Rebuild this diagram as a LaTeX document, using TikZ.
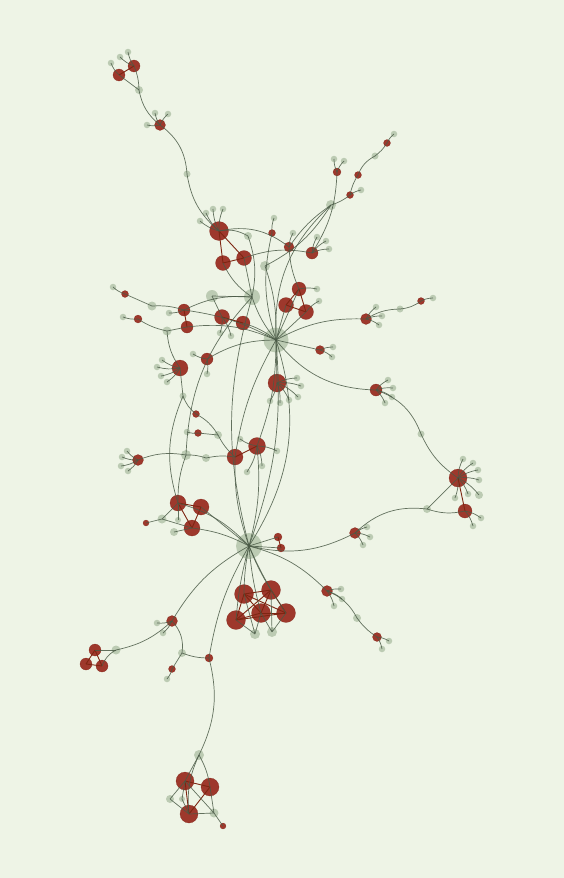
\documentclass[tikz,border=0pt]{standalone}
\definecolor{bgc}{RGB}{238,244,230}
\definecolor{nred}{RGB}{150,36,24}
\definecolor{nredd}{RGB}{120,28,18}
\definecolor{ngray}{RGB}{172,190,162}
\definecolor{edgec}{RGB}{74,90,70}
\definecolor{redline}{RGB}{125,38,18}
\tikzset{
 rn/.style={circle, fill=nred, fill opacity=0.9, draw=nredd, draw opacity=0.6, line width=0.3bp, inner sep=0pt, minimum size=#1},
 gn/.style={circle, fill=ngray, fill opacity=0.75, draw=none, inner sep=0pt, minimum size=#1},
 ed/.style={draw=edgec, draw opacity=0.85, line width=0.7bp},
 re/.style={draw=redline, line width=0.9bp},
}
\newcommand\leafs[3][6.5bp]{\foreach \lx/\ly [count=\li] in {#3}{\node[gn=#1] (#2l\li) at (\lx,\ly) {}; \draw[ed] (#2.center) to[bend left=12] (#2l\li.center);}}
\begin{document}
\begin{tikzpicture}[x=1bp,y=-1bp]
\fill[bgc] (0,0) rectangle (564,878);
\useasboundingbox (0,0) rectangle (564,878);
% ---------- nodes ----------
\node[rn=12bp] (t1) at (119,75) {};
\node[rn=12bp] (t2) at (134,66) {};
\node[gn=8bp] (tg) at (139,90) {};
\node[rn=11bp] (t3) at (160,125) {};
\node[gn=7bp] (tg2) at (187,174) {};
\node[rn=19bp] (a1) at (219,231) {};
\node[rn=15bp] (a2) at (223,263) {};
\node[rn=15bp] (a3) at (244,258) {};
\node[gn=8bp] (ag1) at (248,236) {};
\node[gn=10bp] (ag2) at (265,266) {};
\node[rn=7bp] (a4) at (272,233) {};
\node[rn=10bp] (a5) at (289,247) {};
\node[rn=12bp] (a6) at (312,253) {};
\node[gn=10bp] (bg1) at (331,205) {};
\node[rn=8bp] (b1) at (337,172) {};
\node[rn=7bp] (b2) at (350,195) {};
\node[rn=7bp] (b3) at (358,175) {};
\node[gn=7bp] (bg2) at (375,156) {};
\node[rn=7bp] (b4) at (387,143) {};
\node[rn=14bp] (c1) at (299,289) {};
\node[rn=15bp] (c2) at (286,305) {};
\node[rn=15bp] (c3) at (306,312) {};
\node[gn=16bp] (hA) at (252,297) {};
\node[gn=25bp] (hB) at (276,340) {};
\node[rn=14bp] (d1) at (243,323) {};
\node[rn=15bp] (d2) at (222,317) {};
\node[gn=12bp] (dg) at (212,296) {};
\node[rn=12bp] (e1) at (184,310) {};
\node[rn=12bp] (e2) at (187,327) {};
\node[gn=9bp] (eg1) at (152,306) {};
\node[gn=9bp] (eg2) at (167,331) {};
\node[rn=7bp] (e3) at (125,294) {};
\node[rn=8bp] (e4) at (138,319) {};
\node[rn=12bp] (f1) at (207,359) {};
\node[rn=16bp] (f2) at (180,368) {};
\node[gn=7bp] (fg) at (183,396) {};
\node[rn=9bp] (g1) at (320,350) {};
\node[rn=11bp] (g2) at (366,319) {};
\node[gn=7bp] (gg) at (400,309) {};
\node[rn=7bp] (g3) at (421,301) {};
\node[rn=18bp] (h1) at (277,383) {};
\node[rn=12bp] (k1) at (376,390) {};
\node[gn=7bp] (kg) at (421,434) {};
\node[rn=18bp] (k2) at (458,478) {};
\node[rn=14bp] (k3) at (465,511) {};
\node[gn=8bp] (kg2) at (427,509) {};
\node[rn=11bp] (k4) at (355,533) {};
\node[rn=7bp] (m1) at (196,414) {};
\node[rn=7bp] (m2) at (198,433) {};
\node[gn=8bp] (mg1) at (218,435) {};
\node[gn=10bp] (mg2) at (186,455) {};
\node[gn=8bp] (mg3) at (206,458) {};
\node[rn=11bp] (m3) at (138,460) {};
\node[rn=16bp] (m4) at (235,457) {};
\node[rn=17bp] (m5) at (257,446) {};
\node[rn=16bp] (n1) at (178,503) {};
\node[rn=16bp] (n2) at (201,507) {};
\node[rn=16bp] (n3) at (192,528) {};
\node[gn=9bp] (ng1) at (162,519) {};
\node[rn=6bp] (n4) at (146,523) {};
\node[gn=8bp] (ng2) at (174,532) {};
\node[gn=6bp] (ng3) at (178,520) {};
\node[gn=26bp] (hC) at (249,546) {};
\node[rn=8bp] (p1) at (278,537) {};
\node[rn=8bp] (p2) at (281,548) {};
\node[rn=19bp] (q1) at (244,594) {};
\node[rn=19bp] (q2) at (271,590) {};
\node[rn=19bp] (q3) at (236,620) {};
\node[rn=19bp] (q4) at (261,613) {};
\node[rn=19bp] (q5) at (286,613) {};
\node[gn=10bp] (qg1) at (255,634) {};
\node[gn=10bp] (qg2) at (272,632) {};
\node[rn=11bp] (s1) at (327,591) {};
\node[gn=8bp] (sg) at (357,618) {};
\node[rn=9bp] (s2) at (377,637) {};
\node[rn=11bp] (u1) at (172,621) {};
\node[gn=9bp] (ug) at (116,650) {};
\node[rn=12bp] (u2) at (95,650) {};
\node[rn=12bp] (u3) at (86,664) {};
\node[rn=12bp] (u4) at (102,666) {};
\node[gn=8bp] (ug2) at (182,653) {};
\node[rn=7bp] (u5) at (172,669) {};
\node[rn=8bp] (u6) at (209,658) {};
\node[gn=10bp] (v) at (199,755) {};
\node[rn=18bp] (v1) at (185,781) {};
\node[rn=18bp] (v2) at (210,787) {};
\node[rn=18bp] (v3) at (189,814) {};
\node[gn=8bp] (vg1) at (170,799) {};
\node[gn=9bp] (vg2) at (214,813) {};
\node[gn=6bp] (vg3) at (182,799) {};
\node[rn=6bp] (v4) at (223,826) {};
% ---------- leaves ----------
\leafs{t1}{111/63}
\leafs{t2}{120/57,128/52}
\leafs{t3}{155/113,168/114,147/125}
\leafs{a1}{206/213,213/209,223/209,200/221}
\leafs{a4}{274/218}
\leafs{a5}{293/233}
\leafs{a6}{317/237,326/241,329/249}
\leafs{b1}{334/159,344/161}
\leafs{b2}{361/190}
\leafs{b4}{394/134}
\leafs{c1}{317/289}
\leafs{c3}{319/301}
\leafs{d2}{220/333,231/336}
\leafs{e1}{169/313}
\leafs{e3}{113/287}
\leafs{e4}{123/317}
\leafs{f1}{207/374,193/354}
\leafs{f2}{162/360,157/367,161/376,167/382}
\leafs{g1}{333/347,332/357}
\leafs{g2}{376/307,382/316,379/325}
\leafs{g3}{433/298}
\leafs{h1}{297/378,301/386,298/397,289/400,280/403,270/401}
\leafs{k1}{388/380,393/388,392/397,385/403}
\leafs{k2}{463/459,473/463,478/470,479/480,468/494,455/498}
\leafs[8bp]{k2}{479/495}
\leafs{k3}{481/518,473/526}
\leafs{k4}{367/527,370/537,363/545}
\leafs{m2}{187/432}
\leafs{m3}{127/451,122/457,121/466,128/471}
\leafs{m5}{277/451,262/466,247/472,240/439}
\leafs{s1}{341/589,342/599,334/606}
\leafs{s2}{389/641,382/649}
\leafs{u1}{157/623,163/633}
\leafs{u5}{167/679}
% ---------- red (intra-cluster) edges ----------
\draw[re] (t1.center) -- (t2.center);
\draw[re] (a1.center) -- (a2.center) (a1.center) -- (a3.center) (a2.center) -- (a3.center);
\draw[re] (c1.center) -- (c2.center) (c1.center) -- (c3.center) (c2.center) -- (c3.center);
\draw[re] (d1.center) -- (d2.center);
\draw[re] (e1.center) -- (e2.center);
\draw[re] (m4.center) -- (m5.center);
\draw[re] (n1.center) -- (n2.center) (n1.center) -- (n3.center) (n2.center) -- (n3.center);
\draw[re] (p1.center) -- (p2.center);
\draw[re] (k2.center) -- (k3.center);
\foreach \a/\b in {q1/q2,q1/q3,q1/q4,q1/q5,q2/q3,q2/q4,q2/q5,q3/q4,q3/q5,q4/q5}{\draw[re] (\a.center) -- (\b.center);}
\draw[re] (u2.center) -- (u3.center) (u2.center) -- (u4.center) (u3.center) -- (u4.center);
\draw[re] (v1.center) -- (v2.center) (v1.center) -- (v3.center) (v2.center) -- (v3.center);
% ---------- connectors ----------
\draw[ed] (tg.center) -- (t1.center);
\draw[ed] (tg.center) to[bend right=10] (t2.center);
\draw[ed] (tg.center) to[bend right=20] (t3.center);
\draw[ed] (t3.center) to[bend left=25] (tg2.center);
\draw[ed] (tg2.center) to[bend right=20] (a1.center);
\draw[ed] (a1.center) to[bend left=20] (ag1.center);
\draw[ed] (a1.center) to[bend left=25] (a5.center);
\draw[ed] (a3.center) to[bend left=15] (a6.center);
\draw[ed] (a2.center) to[bend right=15] (hA.center);
\draw[ed] (a3.center) -- (hA.center);
\draw[ed] (ag1.center) to[bend left=15] (hA.center);
\draw[ed] (ag2.center) to[bend left=10] (hB.center);
\draw[ed] (a4.center) to[bend right=15] (hB.center);
\draw[ed] (bg1.center) to[bend right=25] (hB.center);
\draw[ed] (bg1.center) to[bend right=10] (a5.center);
\draw[ed] (bg1.center) to[bend left=15] (ag2.center);
\draw[ed] (bg1.center) to[bend right=10] (b2.center);
\draw[ed] (b2.center) to[bend left=10] (b3.center);
\draw[ed] (b3.center) to[bend left=20] (bg2.center);
\draw[ed] (bg2.center) to[bend right=10] (b4.center);
\draw[ed] (b1.center) to[bend left=15] (a6.center);
\draw[ed] (a5.center) to[bend right=10] (c1.center);
\draw[ed] (c1.center) -- (hB.center) (c2.center) -- (hB.center) (c3.center) -- (hB.center);
\draw[ed] (hA.center) to[bend right=10] (hB.center);
\draw[ed] (hA.center) -- (dg.center);
\draw[ed] (hA.center) to[bend right=15] (e1.center);
\draw[ed] (hB.center) to[bend right=10] (d1.center);
\draw[ed] (d2.center) -- (dg.center);
\draw[ed] (eg1.center) -- (e3.center);
\draw[ed] (eg1.center) to[bend left=10] (e1.center);
\draw[ed] (e4.center) to[bend right=10] (eg2.center);
\draw[ed] (eg2.center) -- (e2.center);
\draw[ed] (e1.center) to[bend left=10] (hB.center);
\draw[ed] (e2.center) to[bend left=15] (hB.center);
\draw[ed] (hB.center) to[bend right=15] (f1.center);
\draw[ed] (f2.center) to[bend left=15] (eg2.center);
\draw[ed] (f2.center) -- (fg.center);
\draw[ed] (hB.center) -- (g1.center);
\draw[ed] (hB.center) to[bend left=15] (g2.center);
\draw[ed] (g2.center) to[bend left=15] (gg.center);
\draw[ed] (gg.center) to[bend right=15] (g3.center);
\draw[ed] (hB.center) -- (h1.center);
\draw[ed] (hB.center) to[bend right=25] (k1.center);
\draw[ed] (k1.center) to[bend left=25] (kg.center);
\draw[ed] (kg.center) to[bend right=15] (k2.center);
\draw[ed] (kg2.center) -- (k2.center);
\draw[ed] (kg2.center) to[bend right=15] (k3.center);
\draw[ed] (k4.center) to[bend left=25] (kg2.center);
\draw[ed] (hB.center) to[bend left=12] (hC.center);
\draw[ed] (hB.center) to[bend left=25] (hC.center);
\draw[ed] (hB.center) to[bend left=10] (m5.center);
\draw[ed] (hB.center) to[bend right=10] (m4.center);
\draw[ed] (hA.center) to[bend right=20] (mg2.center);
\draw[ed] (hA.center) to[bend right=15] (hC.center);
\draw[ed] (fg.center) to[bend right=15] (m1.center);
\draw[ed] (m1.center) to[bend left=15] (mg1.center);
\draw[ed] (mg1.center) to[bend right=10] (m4.center);
\draw[ed] (m2.center) -- (mg1.center);
\draw[ed] (m3.center) to[bend left=15] (mg2.center);
\draw[ed] (mg2.center) to[bend left=10] (mg3.center);
\draw[ed] (mg3.center) to[bend left=10] (m4.center);
\draw[ed] (mg2.center) to[bend right=10] (n1.center);
\draw[ed] (fg.center) to[bend right=20] (n1.center);
\draw[ed] (n1.center) to[bend left=15] (hC.center);
\draw[ed] (n2.center) -- (hC.center);
\draw[ed] (n3.center) to[bend left=10] (hC.center);
\draw[ed] (ng1.center) -- (n3.center);
\draw[ed] (n4.center) -- (ng1.center);
\draw[ed] (ng1.center) -- (n1.center);
\draw[ed] (ng2.center) -- (n3.center);
\draw[ed] (ng3.center) -- (n1.center);
\draw[ed] (m4.center) to[bend right=10] (hC.center);
\draw[ed] (m5.center) to[bend left=10] (hC.center);
\draw[ed] (hC.center) -- (p1.center);
\draw[ed] (hC.center) -- (p2.center);
\foreach \q in {q1,q2,q3,q4,q5}{\draw[ed] (hC.center) to[bend right=5] (\q.center);}
\draw[ed] (q4.center) -- (qg1.center) (q4.center) -- (qg2.center) (q3.center) -- (qg1.center) (q5.center) -- (qg2.center) (q1.center) -- (qg1.center) (q2.center) -- (qg2.center);
\draw[ed] (hC.center) to[bend left=15] (s1.center);
\draw[ed] (s1.center) to[bend left=20] (sg.center);
\draw[ed] (sg.center) to[bend right=10] (s2.center);
\draw[ed] (hC.center) to[bend right=20] (k4.center);
\draw[ed] (hC.center) to[bend right=15] (u1.center);
\draw[ed] (u1.center) to[bend left=15] (ug.center);
\draw[ed] (ug.center) -- (u2.center);
\draw[ed] (ug.center) to[bend right=20] (u4.center);
\draw[ed] (u1.center) to[bend left=25] (ug2.center);
\draw[ed] (ug2.center) -- (u5.center);
\draw[ed] (ug2.center) to[bend right=10] (u6.center);
\draw[ed] (hC.center) to[bend right=10] (u6.center);
\draw[ed] (u6.center) to[bend left=20] (v.center);
\draw[ed] (v.center) -- (v1.center);
\draw[ed] (v.center) to[bend left=10] (v2.center);
\draw[ed] (v.center) to[bend right=15] (v3.center);
\draw[ed] (v1.center) -- (vg1.center) (v3.center) -- (vg1.center) (v1.center) -- (vg3.center) (v3.center) -- (vg3.center);
\draw[ed] (v2.center) -- (vg2.center) (v3.center) -- (vg2.center) (v1.center) -- (vg2.center);
\draw[ed] (vg2.center) -- (v4.center);
\end{tikzpicture}
\end{document}
